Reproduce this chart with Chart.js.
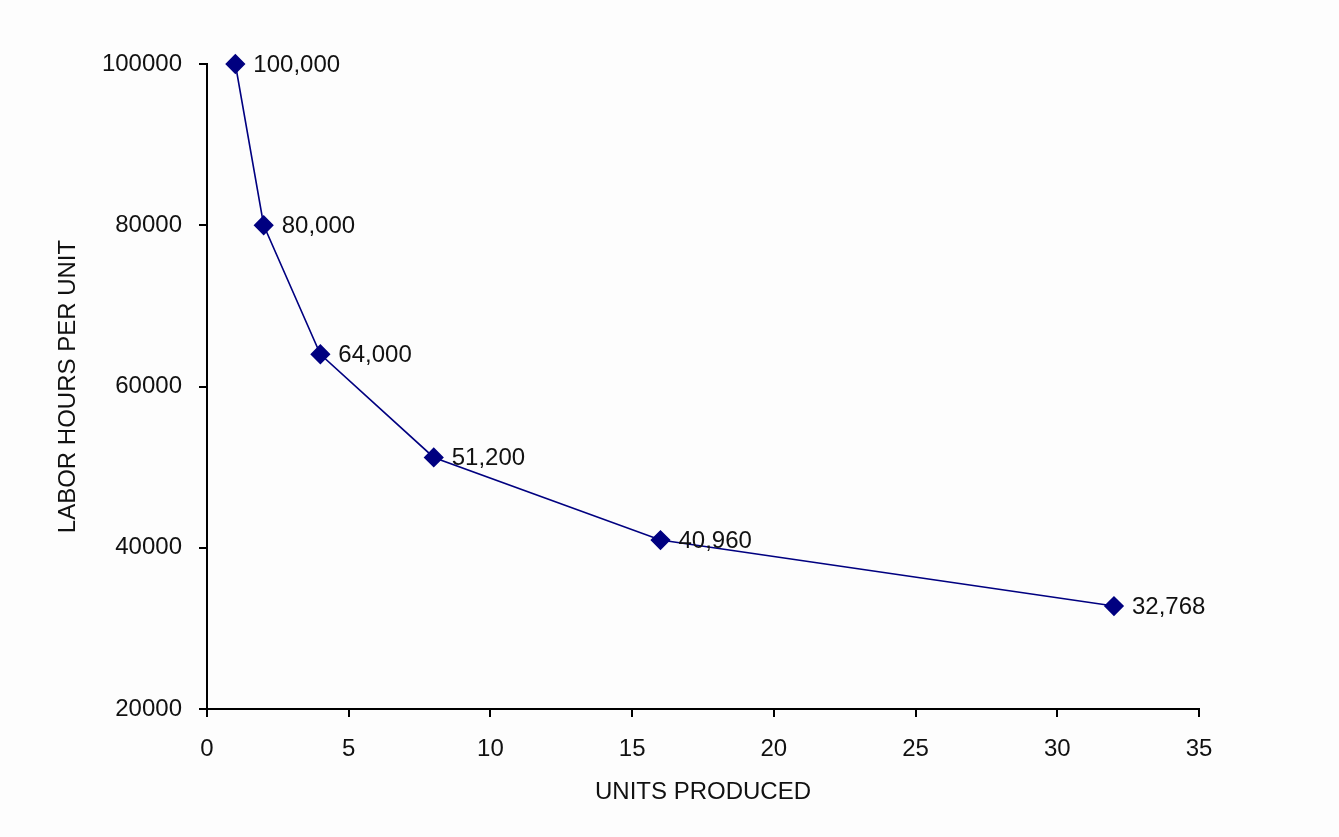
<!DOCTYPE html>
<html>
<head>
<meta charset="utf-8">
<script src="https://cdn.jsdelivr.net/npm/chart.js@4"></script>
<style>
  html, body { margin: 0; padding: 0; background: #fdfdfd; }
  #wrap { width: 1339px; height: 837px; }
</style>
</head>
<body>
<div id="wrap"><canvas id="chart" width="1339" height="837"></canvas></div>
<script>
// learning curve data
const units = [1, 2, 4, 8, 16, 32];
const laborHours = [100000, 80000, 64000, 51200, 40960, 32768];
const pointLabels = ['100,000', '80,000', '64,000', '51,200', '40,960', '32,768'];

const xTitle = 'UNITS PRODUCED';
const yTitle = 'LABOR HOURS PER UNIT';

const FONT = 'Liberation Sans, Arial, sans-serif';

// write the value next to each diamond
const valueLabels = {
    id: 'valueLabels',
    afterDatasetsDraw(chart) {
        const ctx = chart.ctx;
        const meta = chart.getDatasetMeta(0);
        ctx.save();
        ctx.font = '24px ' + FONT;
        ctx.fillStyle = '#111';
        ctx.textAlign = 'left';
        ctx.textBaseline = 'middle';
        meta.data.forEach((pt, i) => {
            ctx.fillText(pointLabels[i], pt.x + 18, pt.y + 1);
        });
        ctx.restore();
    }
};

new Chart(document.getElementById('chart').getContext('2d'), {
    type: 'scatter',
    data: {
        datasets: [{
            data: units.map((u, i) => ({x: u, y: laborHours[i]})),
            showLine: true,
            clip: false,
            borderColor: '#000080',
            borderWidth: 1.6,
            backgroundColor: '#000080',
            pointStyle: 'rectRot',
            pointRadius: 9,
            pointHoverRadius: 9
        }]
    },
    options: {
        responsive: false,
        animation: false,
        events: [],
        layout: { padding: { left: 40, right: 140, top: 64, bottom: 0 } },
        plugins: { legend: { display: false }, tooltip: { enabled: false } },
        scales: {
            x: {
                type: 'linear',
                min: 0, max: 35,
                afterFit(scale) { scale.height = 128; },
                border: { color: '#000', width: 2 },
                grid: { drawOnChartArea: false, color: '#000', lineWidth: 2, tickLength: 8 },
                ticks: { stepSize: 5, color: '#111', font: { family: FONT, size: 24 }, padding: 18 },
                title: { display: true, text: xTitle, color: '#111', font: { family: FONT, size: 24 }, padding: { top: 10, bottom: 30 } }
            },
            y: {
                min: 20000, max: 100000,
                afterFit(scale) { scale.width = 167; },
                border: { color: '#000', width: 2 },
                grid: { drawOnChartArea: false, color: '#000', lineWidth: 2, tickLength: 8 },
                ticks: { stepSize: 20000, color: '#111', font: { family: FONT, size: 24 }, padding: 17,
                         callback: v => String(v) },
                title: { display: true, text: yTitle, color: '#111', font: { family: FONT, size: 24 }, padding: { top: 14, bottom: 0 } }
            }
        }
    },
    plugins: [valueLabels]
});
</script>
</body>
</html>
